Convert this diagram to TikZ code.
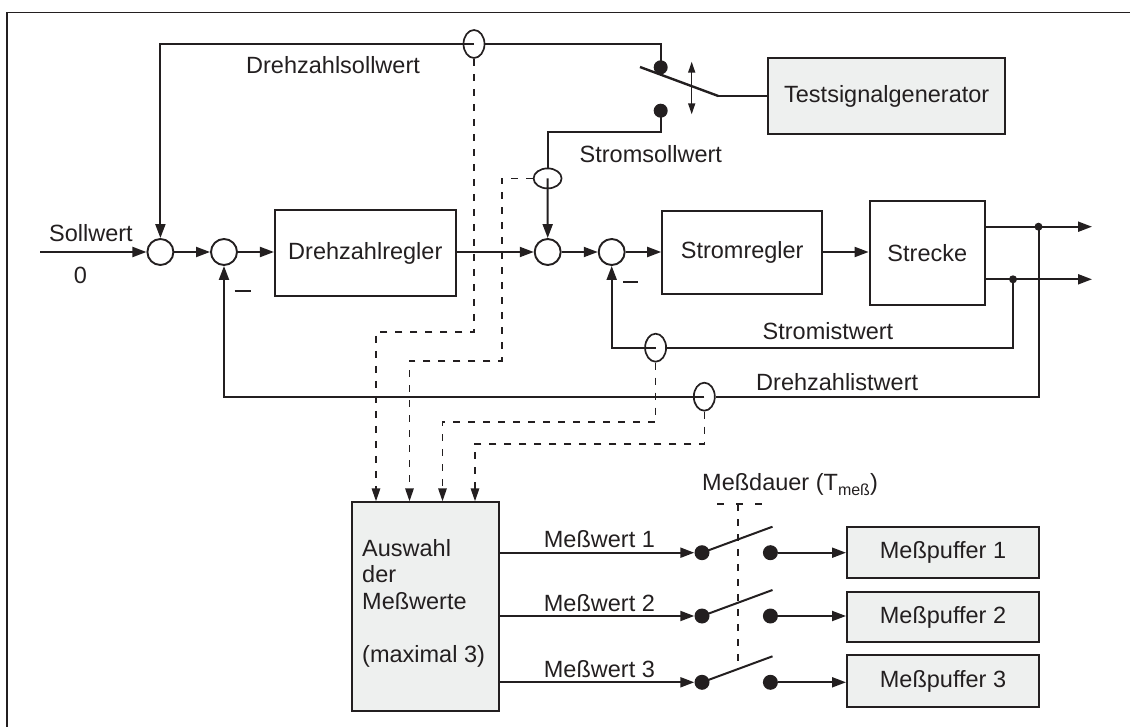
\documentclass[tikz,border=0pt]{standalone}
\usepackage{fontspec}
\setmainfont{Liberation Sans}
\usetikzlibrary{arrows.meta,shapes.geometric,calc}
\definecolor{ink}{HTML}{231F20}
\definecolor{boxgray}{HTML}{EEF0EF}
\begin{document}
\begin{tikzpicture}[x=1pt,y=-1pt,
  every node/.style={font=\fontsize{23.5}{26.5}\selectfont, text=ink},
  sig/.style={draw=ink, line width=2pt},
  arr/.style={-{Triangle[length=14pt,width=10pt]}},
  darr/.style={-{Triangle[length=13pt,width=8.5pt]}},
  tap/.style={draw=ink, line width=1.6pt, dash pattern=on 7pt off 8pt},
  blk/.style={draw=ink, line width=2pt, rectangle, inner sep=0pt, align=center},
  gblk/.style={blk, fill=boxgray},
  sumc/.style={circle, draw=ink, line width=1.9pt, minimum size=26pt, inner sep=0pt, fill=white},
  meas/.style={ellipse, draw=ink, line width=1.7pt, minimum width=21pt, minimum height=28pt, inner sep=0pt},
  cdot/.style={circle, fill=ink, minimum size=14pt, inner sep=0pt},
  mdot/.style={circle, fill=ink, minimum size=15pt, inner sep=0pt},
  jdot/.style={circle, fill=ink, minimum size=8pt, inner sep=0pt},
  lbl/.style={inner sep=0pt, anchor=base west},
]
\useasboundingbox (0,0) rectangle (1130,727);
% frame
\coordinate (fa) at (7,727);
\coordinate (fb) at (7,12.5);
\coordinate (fc) at (1130,12.5);
\draw[draw=ink, line width=1.6pt] (fa) -- (fb) -- (fc);

% summing points
\node[sumc] (s1) at (160.4,252) {};
\node[sumc] (s2) at (224,252) {};
\node[sumc] (s3) at (547.7,252) {};
\node[sumc] (s4) at (611.7,252) {};

% blocks
\node[blk, minimum width=180.7pt, minimum height=86pt] (dreh) at (365.3,253) {Drehzahlregler};
\node[blk, minimum width=160pt, minimum height=83.6pt] (strom) at (742.2,252.5) {Stromregler};
\node[blk, minimum width=115.4pt, minimum height=103.7pt] (strecke) at (927.3,252.8) {Strecke};
\node[gblk, minimum width=236.7pt, minimum height=75.7pt] (tsg) at (886.7,96.2) {Testsignalgenerator};
\node[gblk, minimum width=147.3pt, minimum height=208.4pt] (aus) at (425.2,606.5) {};
\node[gblk, minimum width=192pt, minimum height=51pt] (mp1) at (943,552.2) {Meßpuffer 1};
\node[gblk, minimum width=192pt, minimum height=50.6pt] (mp2) at (943,617) {Meßpuffer 2};
\node[gblk, minimum width=192pt, minimum height=52pt] (mp3) at (943,681) {Meßpuffer 3};

% Auswahl text
\node[lbl] (at1) at (362,556.7) {Auswahl};
\node[lbl] (at2) at (362,582.7) {der};
\node[lbl] (at3) at (362,609.3) {Meßwerte};
\node[lbl] (at4) at (362,662.7) {(maximal 3)};

% forward path
\coordinate (in) at (40.4,252);
\draw[sig,arr] (in) -- (s1.west);
\draw[sig,arr] (s1.east) -- (s2.west);
\draw[sig,arr] (s2.east) -- (dreh.west |- s2.east);
\draw[sig,arr] (dreh.east |- s3.west) -- (s3.west);
\draw[sig,arr] (s3.east) -- (s4.west);
\draw[sig,arr] (s4.east) -- (strom.west |- s4.east);
\draw[sig,arr] (strom.east |- s4.east) -- (strecke.west |- s4.east);

% outputs and junctions
\node[jdot] (j1) at (1038.5,226.7) {};
\node[jdot] (j2) at (1013,279.3) {};
\coordinate (o1) at (1092,226.7);
\coordinate (o2) at (1092,279.3);
\draw[sig,arr] (strecke.east |- j1) -- (o1);
\draw[sig,arr] (strecke.east |- j2) -- (o2);

% feedback paths with measuring taps
\node[meas] (e3) at (655.6,347.7) {};
\node[meas] (e4) at (704.3,396.7) {};
\draw[sig] (j2.center) |- (e3.east);
\draw[sig,arr] (e3.center) -| (s4.south);
\draw[sig] (j1.center) |- (e4.east);
\draw[sig,arr] (e4.center) -| (s2.south);

% test switch
\node[cdot] (tc) at (660.7,67.3) {};
\node[cdot] (bc) at (660.7,110.7) {};
\coordinate (bla) at (640,67);
\coordinate (blb) at (718.3,96);
\draw[draw=ink, line width=2.4pt] (bla) -- (blb);
\draw[sig] (blb) -- (tsg.west |- blb);
\coordinate (da1) at (691.7,61.7);
\coordinate (da2) at (691.7,114.3);
\draw[draw=ink, line width=1.5pt, {Triangle[length=11pt,width=7pt]}-{Triangle[length=11pt,width=7pt]}] (da1) -- (da2);

% Drehzahlsollwert path
\node[meas] (e1) at (474,44) {};
\draw[sig] (tc.center) |- (e1.east);
\draw[sig,arr] (e1.center) -| (s1.north);

% Stromsollwert path
\node[meas, minimum width=28pt, minimum height=20pt] (e2) at (547.6,178.4) {};
\coordinate (bk) at (660.7,132.3);
\draw[sig] (bc.center) -- (bk) -| (e2.north);
\draw[sig,arr] (e2.center) -- (s3.north);

% dashed measuring lines
\coordinate (k1) at (376,332.3);
\draw[tap,darr] (e1.south) |- (k1) -- (k1 |- aus.north);
\coordinate (k2a) at (501.7,361);
\coordinate (k2b) at (409.5,361);
\draw[tap,darr] (e2.west) -| (k2a) -- (k2b) -- (k2b |- aus.north);
\coordinate (k3) at (442.5,421.7);
\draw[tap,darr] (e3.south) |- (k3) -- (k3 |- aus.north);
\coordinate (k4) at (475,443.7);
\draw[tap,darr] (e4.south) |- (k4) -- (k4 |- aus.north);

% minus signs
\coordinate (m1a) at (234.6,291);
\coordinate (m1b) at (250.7,291);
\draw[draw=ink, line width=2pt] (m1a) -- (m1b);
\coordinate (m2a) at (623,282);
\coordinate (m2b) at (637.7,282);
\draw[draw=ink, line width=2pt] (m2a) -- (m2b);

% measuring switches
\node[mdot] (l1) at (702,552.7) {};
\node[mdot] (l2) at (702,616) {};
\node[mdot] (l3) at (702,682.3) {};
\node[mdot] (r1) at (770.4,552.7) {};
\node[mdot] (r2) at (770.4,616) {};
\node[mdot] (r3) at (770.4,682.3) {};
\coordinate (b1) at (772.5,526.7);
\coordinate (b2) at (772.5,590);
\coordinate (b3) at (772.5,656.3);
\draw[sig] (l1.center) -- (b1);
\draw[sig] (l2.center) -- (b2);
\draw[sig] (l3.center) -- (b3);
\draw[sig,arr] (aus.east |- l1) -- (l1.west);
\draw[sig,arr] (aus.east |- l2) -- (l2.west);
\draw[sig,arr] (aus.east |- l3) -- (l3.west);
\draw[sig,arr] (r1.east) -- (r1 -| mp1.west);
\draw[sig,arr] (r2.east) -- (r2 -| mp2.west);
\draw[sig,arr] (r3.east) -- (r3 -| mp3.west);

% Messdauer control
\coordinate (ct) at (738,504);
\coordinate (cb) at (738,670);
\coordinate (cl) at (717,504);
\coordinate (cr) at (764,504);
\draw[tap] (ct) -- (cb);
\draw[draw=ink, line width=1.6pt, dash pattern=on 7pt off 12pt] (cl) -- (cr);

% labels
\node[lbl] (ldsw) at (246,74) {Drehzahlsollwert};
\node[lbl] (lssw) at (579.5,163) {Stromsollwert};
\node[lbl] (lsw) at (49,242) {Sollwert};
\node[inner sep=0pt, anchor=base] (lnull) at (80.4,284) {0};
\node[lbl] (liw) at (762.5,339.3) {Stromistwert};
\node[lbl] (ldiw) at (756,390) {Drehzahlistwert};
\node[lbl] (lmd) at (702,490.7) {Meßdauer (T\raisebox{-5pt}{\fontsize{16}{16}\selectfont meß})};
\node[lbl] (lmw1) at (543.7,547.3) {Meßwert 1};
\node[lbl] (lmw2) at (543.7,611.7) {Meßwert 2};
\node[lbl] (lmw3) at (543.7,677.3) {Meßwert 3};
\end{tikzpicture}
\end{document}
